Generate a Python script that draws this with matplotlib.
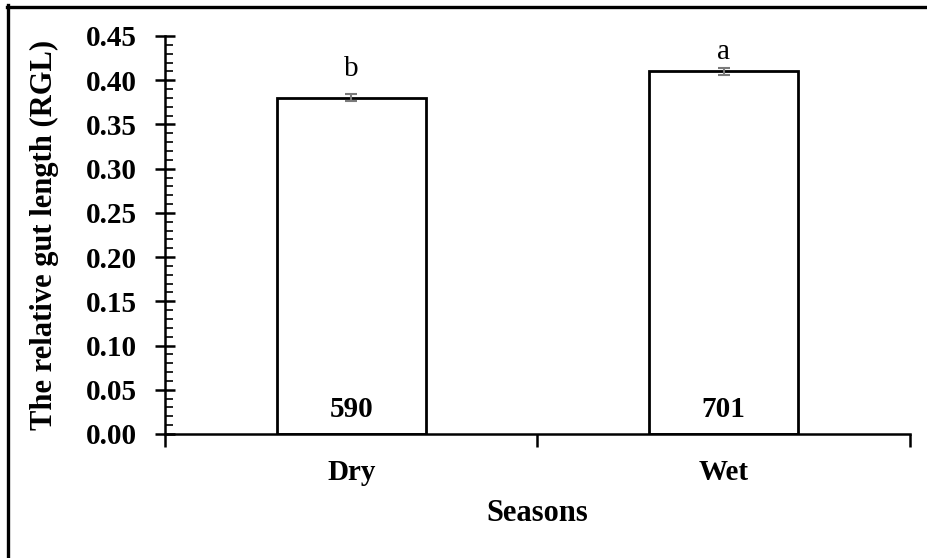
import matplotlib
matplotlib.use("Agg")
import matplotlib.pyplot as plt
from matplotlib.lines import Line2D
from matplotlib.ticker import MultipleLocator, FixedLocator, NullFormatter
import numpy as np

seasons = ["Dry", "Wet"]
rgl = [0.38, 0.41]
rgl_err = [0.004, 0.004]
sig_letters = ["b", "a"]
letter_y = [0.405, 0.424]
sample_sizes = ["590", "701"]
y_ticks = [0.00, 0.05, 0.10, 0.15, 0.20, 0.25, 0.30, 0.35, 0.40, 0.45]

plt.rcParams['font.family'] = ['Liberation Serif', 'DejaVu Serif']

fig = plt.figure(figsize=(9.28, 5.58), dpi=100)
ax = fig.add_axes([165/928, 1-434/558, (910-165)/928, (434-36)/558])

x = np.arange(len(seasons))
ax.bar(x, rgl, width=0.40, color='white', edgecolor='black', linewidth=2.0, zorder=2)
ax.errorbar(x, rgl, yerr=rgl_err, fmt='none', ecolor='#7a7a7a', elinewidth=1.5,
            capsize=4, capthick=1.5, zorder=3)

for xi, ly, let in zip(x, letter_y, sig_letters):
    ax.text(xi, ly, let, ha='center', va='baseline', fontsize=21, fontweight='normal')
for xi, n in zip(x, sample_sizes):
    ax.text(xi, 0.012, n, ha='center', va='bottom', fontsize=21, fontweight='bold')

ax.set_xlim(-0.5, 1.5)
ax.set_ylim(0, 0.45)
ax.yaxis.set_major_locator(FixedLocator(y_ticks))
ax.yaxis.set_minor_locator(MultipleLocator(0.01))
ax.set_yticklabels([f"{t:.2f}" for t in y_ticks], fontsize=21, fontweight='bold')

ax.xaxis.set_major_locator(FixedLocator([-0.5, 0.5, 1.5]))
ax.xaxis.set_major_formatter(NullFormatter())
ax.set_xticks(x, minor=True)
ax.set_xticklabels(seasons, minor=True, fontsize=21, fontweight='bold')

ax.tick_params(axis='y', which='major', direction='inout', length=15, width=1.8, pad=13)
ax.tick_params(axis='y', which='minor', direction='in', length=6, width=1.2)
ax.tick_params(axis='x', which='major', direction='out', length=9, width=1.8)
ax.tick_params(axis='x', which='minor', direction='in', length=6, width=1.5, pad=18)

for s in ['top', 'right']:
    ax.spines[s].set_visible(False)
for s in ['left', 'bottom']:
    ax.spines[s].set_linewidth(1.8)

ax.set_xlabel("Seasons", fontsize=22, fontweight='bold')
ax.xaxis.set_label_coords(0.5, (434-499)/398)
ax.set_ylabel("The relative gut length (RGL)", fontsize=22, fontweight='bold')
ax.yaxis.set_label_coords((59-165)/745, 0.5)

# outer frame (left and top edges visible)
fig.add_artist(Line2D([8.5/928, 8.5/928], [0, 1 - 5/558], transform=fig.transFigure,
                      color='black', linewidth=2.4))
fig.add_artist(Line2D([7/928, 1], [1 - 6.5/558, 1 - 6.5/558], transform=fig.transFigure,
                      color='black', linewidth=2.4))

fig.savefig("out.png", dpi=100)
